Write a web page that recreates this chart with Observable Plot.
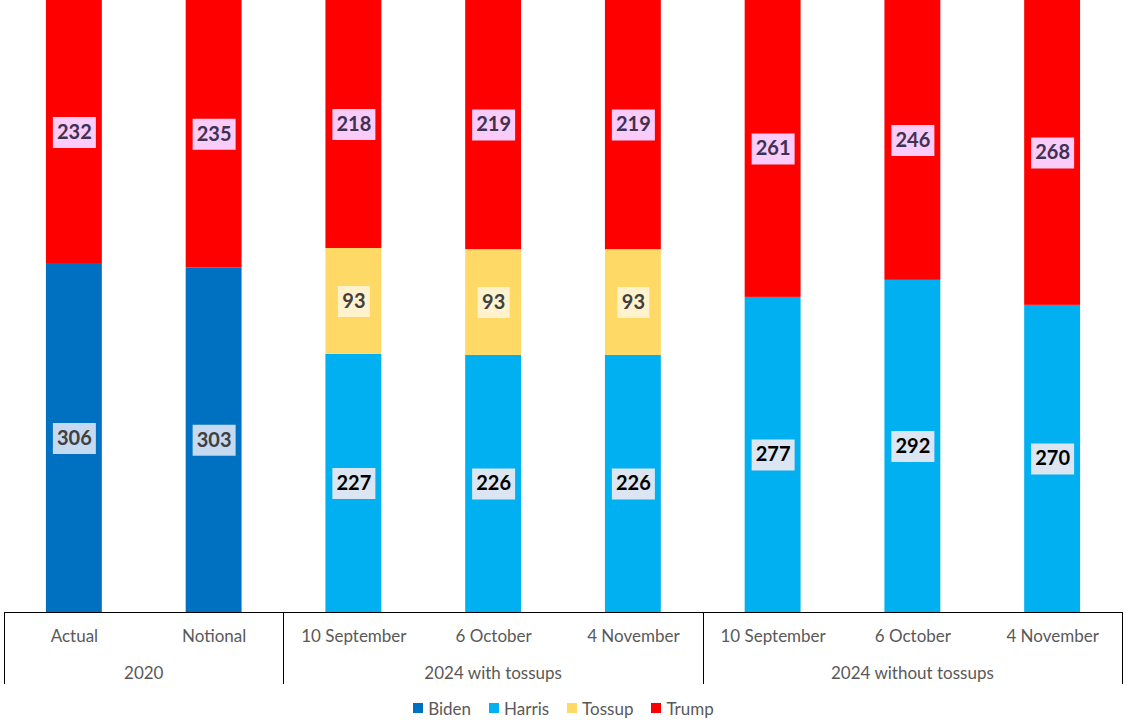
<!DOCTYPE html>
<html><head><meta charset="utf-8">
<script src="https://cdn.jsdelivr.net/npm/d3@7"></script>
<script src="https://cdn.jsdelivr.net/npm/@observablehq/plot@0.6"></script>
<style>
body{margin:0;background:#fff;font-family:Lato,"Open Sans",sans-serif;}
#legend{display:flex;justify-content:center;align-items:center;height:24px;font-size:17px;color:#595959;}
#legend .item{display:flex;align-items:center;margin:0 9px;}
#legend .sw{width:10px;height:10px;margin-right:5px;}
</style>
</head><body>
<div id="chart"></div>
<div id="legend"></div>
<script>
const categories = ["Actual","Notional","10 September","6 October","4 November","10 September","6 October","4 November"];
const groups = ["2020","2020","2024 with tossups","2024 with tossups","2024 with tossups","2024 without tossups","2024 without tossups","2024 without tossups"];
const demNames = ["Biden","Biden","Harris","Harris","Harris","Harris","Harris","Harris"];
const demSeats = [306,303,227,226,226,277,292,270];
const tossupSeats = [0,0,93,93,93,0,0,0];
const trumpSeats = [232,235,218,219,219,261,246,268];
const seriesOrder = ["Biden","Harris","Tossup","Trump"];
const seriesColors = ["#0070C0","#00B0F0","#FFD966","#FF0000"];
const boxColors = ["#C5D9F1","#DCE6F2","#FFF2CC","#F9CCF9"];
const labelColors = ["#404040","#000000","#404040","#403151"];

const colorOf = s => seriesColors[seriesOrder.indexOf(s)];
const boxOf = s => boxColors[seriesOrder.indexOf(s)];
const labelOf = s => labelColors[seriesOrder.indexOf(s)];

const keys = categories.map((c,i)=>groups[i]+" | "+c);
const rows = [];
keys.forEach((k,i)=>{
  let acc = 0;
  const parts = [[demNames[i],demSeats[i]],["Tossup",tossupSeats[i]],["Trump",trumpSeats[i]]];
  for (const [s,v] of parts) {
    if (v>0) {
      rows.push({key:k, series:s, seats:v, y1:acc, y2:acc+v, mid:acc+v/2});
      acc += v;
    }
  }
});

const W = 1127, H = 696;
const FONT = "Lato, 'Open Sans', sans-serif";
const rectSym = w => ({draw(ctx){ ctx.rect(-w/2, -15.5, w, 31); }});

const plot = Plot.plot({
  width: W, height: H,
  marginLeft: 4, marginRight: 5, marginTop: 0, marginBottom: H - 612,
  x: {domain: keys, paddingInner: 0.6, paddingOuter: 0.3, round: false, axis: null},
  y: {domain: [0, 538], axis: null},
  color: {type: "identity"},
  style: {fontFamily: FONT, background: "#fff"},
  marks: [
    Plot.barY(rows, {x:"key", y1:"y1", y2:"y2", fill: d=>colorOf(d.series)}),
    Plot.dot(rows.filter(d=>String(d.seats).length===3), {x:"key", y:"mid", symbol: rectSym(43), r: 10, fill: d=>boxOf(d.series), stroke: null}),
    Plot.dot(rows.filter(d=>String(d.seats).length===2), {x:"key", y:"mid", symbol: rectSym(32), r: 10, fill: d=>boxOf(d.series), stroke: null}),
    Plot.text(rows, {x:"key", y:"mid", text: d=>String(d.seats), fill: d=>labelOf(d.series), fontWeight: "bold", fontSize: 20, fontFamily: FONT}),
    Plot.ruleY([0], {stroke: "#000", strokeWidth: 1}),
    Plot.text(keys, {x: d=>d, text: (d,i)=>categories[i], frameAnchor: "bottom", lineAnchor: "middle", dy: 24, fontSize: 17, fill: "#595959", fontFamily: FONT})
  ]
});
document.getElementById("chart").appendChild(plot);

// group labels and separators from the x scale
const xs = plot.scale("x");
const step = xs.step, bw = xs.bandwidth;
const svg = d3.select(plot);
const uniq = [...new Set(groups)];
const bounds = [];
uniq.forEach(g=>{
  const idx = groups.map((gg,i)=>gg===g?i:-1).filter(i=>i>=0);
  const left = xs.apply(keys[idx[0]]) - (step - bw)/2;
  const right = xs.apply(keys[idx[idx.length-1]]) + bw + (step - bw)/2;
  bounds.push(left, right);
  svg.append("text").attr("x",(left+right)/2).attr("y",612+62.5).attr("text-anchor","middle")
    .attr("dominant-baseline","middle").attr("font-size",17).attr("fill","#595959").attr("font-family",FONT).text(g);
});
[...new Set(bounds.map(b=>Math.round(b)+0.5))].forEach(b=>{
  svg.append("line").attr("x1",b).attr("x2",b).attr("y1",612).attr("y2",684).attr("stroke","#000").attr("stroke-width",1);
});

// legend
const lg = d3.select("#legend");
seriesOrder.forEach((s,i)=>{
  const it = lg.append("div").attr("class","item");
  it.append("div").attr("class","sw").style("background",seriesColors[i]);
  it.append("span").text(s);
});
</script>
</body></html>
